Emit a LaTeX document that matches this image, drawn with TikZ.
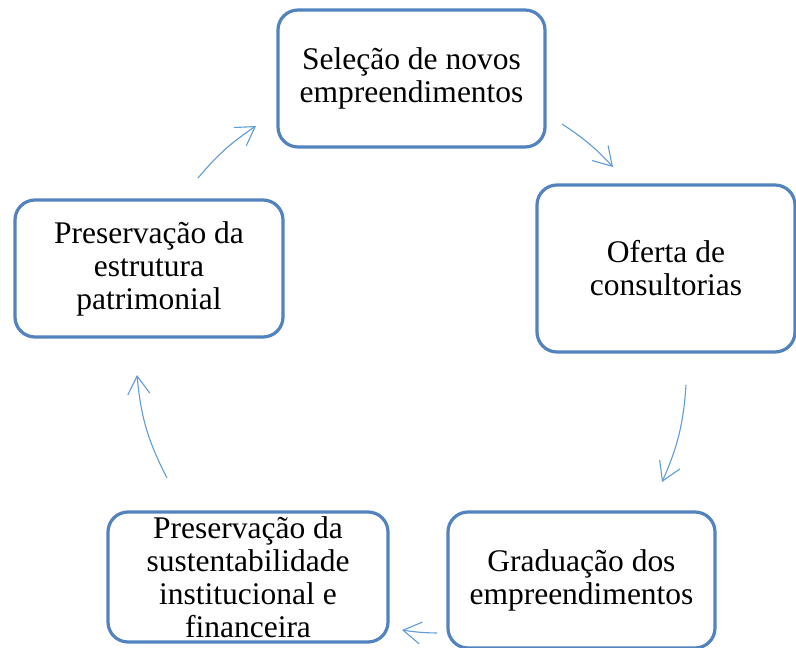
\documentclass[tikz,border=0pt]{standalone}
\usepackage{fontspec}
\setmainfont{Liberation Serif}
\usetikzlibrary{arrows.meta}
\definecolor{boxblue}{RGB}{82,131,191}
\definecolor{arrblue}{RGB}{96,156,214}
\tikzset{
  cyclebox/.style={draw=boxblue, line width=3.2pt, rounded corners=20pt, fill=white,
    align=center, inner sep=0pt,
    font=\fontsize{31.5}{33}\selectfont},
  cyclearrow/.style={draw=arrblue, line width=1.1pt,
    -{Straight Barb[length=18pt,width=22pt,line width=1.1pt]}}
}
\begin{document}
\begin{tikzpicture}[x=1pt,y=-1pt]
\useasboundingbox (0,0) rectangle (796,648);
\fill[white] (0,0) rectangle (796,648);
% boxes
\node[cyclebox, minimum width=267pt, minimum height=137pt] (top) at (411.5,78.5) {Seleção de novos\\empreendimentos};
\node[cyclebox, minimum width=258pt, minimum height=167pt] (right) at (666,268.5) {Oferta de\\consultorias};
\node[cyclebox, minimum width=267pt, minimum height=136pt] (bright) at (581.5,580) {Graduação dos\\empreendimentos};
\node[cyclebox, minimum width=280pt, minimum height=130pt] (bleft) at (248,577) {Preservação da\\sustentabilidade\\institucional e\\financeira};
\node[cyclebox, minimum width=268pt, minimum height=137pt] (left) at (149,268.5) {Preservação da\\estrutura\\patrimonial};
% arrow end points
\coordinate (a1s) at (562,124); \coordinate (a1e) at (613,167);
\coordinate (a2s) at (686,385); \coordinate (a2e) at (662,482);
\coordinate (a3s) at (437,633); \coordinate (a3e) at (402,630);
\coordinate (a4s) at (167,478); \coordinate (a4e) at (137,375);
\coordinate (a5s) at (198,178); \coordinate (a5e) at (256,126);
\draw[cyclearrow] (a1s) to[bend left=7] (a1e);
\draw[cyclearrow] (a2s) to[bend left=10] (a2e);
\draw[cyclearrow] (a3s) to[bend left=4] (a3e);
\draw[cyclearrow] (a4s) to[bend left=11] (a4e);
\draw[cyclearrow] (a5s) to[bend left=8] (a5e);
\end{tikzpicture}
\end{document}
